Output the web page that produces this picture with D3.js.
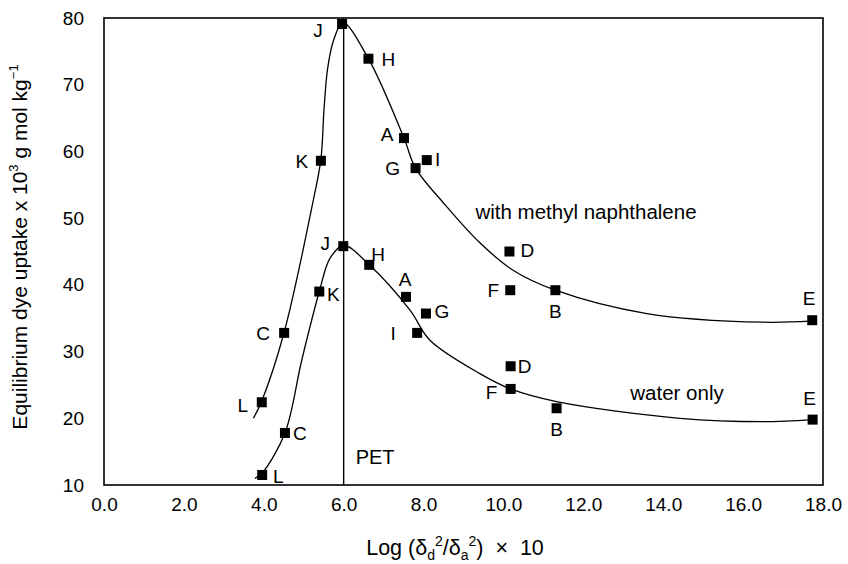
<!DOCTYPE html>
<html><head><meta charset="utf-8">
<script src="https://cdn.jsdelivr.net/npm/d3@7"></script>
<style>body{margin:0;background:#fff}text{font-family:"Liberation Sans",Arial,sans-serif;fill:#000}</style>
</head><body><svg id="c" width="848" height="564"></svg>
<script>
// ---- data ----
const letters = ["L","C","K","J","H","A","G","I","D","F","B","E"];
const withMNx = [3.95,4.51,5.43,5.96,6.62,7.51,7.80,8.08,10.15,10.17,11.30,17.73];
const withMNy = [22.4,32.8,58.6,79.1,73.9,62.0,57.5,58.7,45.0,39.2,39.2,34.7];
const waterX  = [3.96,4.53,5.39,5.99,6.64,7.56,8.06,7.84,10.18,10.18,11.33,17.74];
const waterY  = [11.5,17.8,39.0,45.8,43.0,38.2,35.7,32.8,27.8,24.4,21.5,19.8];
// fitted curves
const curveMNx = [3.74,3.95,4.51,5.24,5.43,5.51,5.60,5.75,5.98,6.62,7.51,7.80,8.54,9.41,10.24,11.30,13.59,16.5,17.73];
const curveMNy = [20.0,22.6,32.9,52.7,58.8,66.5,72.5,76.7,79.3,73.9,62.0,57.5,52.0,46.3,42.2,39.2,35.7,34.4,34.6];
const curveWx  = [3.78,3.96,4.53,4.95,5.39,5.66,6.00,6.64,7.66,8.16,9.41,10.18,11.33,14.42,16.5,17.74];
const curveWy  = [11.0,11.8,17.8,28.7,39.0,44.0,45.9,43.0,36.2,31.7,26.7,24.4,22.5,20.0,19.5,19.8];
const xTicks = [0,2,4,6,8,10,12,14,16,18];
const yTicks = [10,20,30,40,50,60,70,80];
const petX = 6.0;

// ---- layout (label offsets in px, per letter) ----
const offMN = {L:[-19,3],C:[-21,0],K:[-19,0],J:[-24,6],H:[20,0],A:[-17,-4],G:[-23,0],I:[11,-1],D:[18,-1],F:[-17,0],B:[0,21],E:[-3,-22]};
const offW  = {L:[16,1],C:[15,0],K:[14,3],J:[-18,-3],H:[9,-11],A:[-1,-18],G:[16,-2],I:[-24,0],D:[14,0],F:[-19,3],B:[0,21],E:[-3,-21]};

const svg = d3.select("#c");
const x = d3.scaleLinear().domain([0,18]).range([104,823]);
const y = d3.scaleLinear().domain([10,80]).range([485,18]);

// frame
svg.append("rect").attr("x",104).attr("y",18).attr("width",719).attr("height",467)
  .attr("fill","none").attr("stroke","#000").attr("stroke-width",1.6);

// axes (labels only)
const xa = svg.append("g").attr("transform","translate(0,485)")
  .call(d3.axisBottom(x).tickValues(xTicks).tickSize(0).tickPadding(13).tickFormat(d3.format(".1f")));
const ya = svg.append("g").attr("transform","translate(104,0)")
  .call(d3.axisLeft(y).tickValues(yTicks).tickSize(0).tickPadding(20).tickFormat(d3.format("d")));
[xa,ya].forEach(g=>{g.select(".domain").remove();g.selectAll("text").attr("font-size",19).attr("font-family","Liberation Sans, Arial, sans-serif").attr("fill","#000");});

// PET line
svg.append("line").attr("x1",x(petX)).attr("x2",x(petX)).attr("y1",y(80)).attr("y2",y(10))
  .attr("stroke","#000").attr("stroke-width",1.4);
svg.append("text").attr("x",x(petX)+12).attr("y",464).attr("font-size",20).text("PET");

// curves
const line = d3.line().x(d=>x(d[0])).y(d=>y(d[1])).curve(d3.curveCatmullRom.alpha(0.5));
svg.append("path").datum(d3.zip(curveMNx,curveMNy)).attr("d",line).attr("fill","none").attr("stroke","#000").attr("stroke-width",1.3);
svg.append("path").datum(d3.zip(curveWx,curveWy)).attr("d",line).attr("fill","none").attr("stroke","#000").attr("stroke-width",1.3);

// markers + labels
function series(xs,ys,off){
  const g = svg.append("g");
  letters.forEach((l,i)=>{
    g.append("rect").attr("x",x(xs[i])-5).attr("y",y(ys[i])-5).attr("width",10).attr("height",10).attr("fill","#000");
    g.append("text").attr("x",x(xs[i])+off[l][0]).attr("y",y(ys[i])+off[l][1]).attr("dy","0.36em")
      .attr("text-anchor","middle").attr("font-size",19).text(l);
  });
}
series(withMNx,withMNy,offMN);
series(waterX,waterY,offW);

svg.append("text").attr("x",586).attr("y",212).attr("dy","0.36em").attr("text-anchor","middle").attr("font-size",20.5).text("with methyl naphthalene");
svg.append("text").attr("x",677).attr("y",393).attr("dy","0.36em").attr("text-anchor","middle").attr("font-size",20.5).text("water only");

// y title
const yt = svg.append("text").attr("transform","translate(27,247) rotate(-90)").attr("text-anchor","middle").attr("font-size",21);
yt.append("tspan").text("Equilibrium dye uptake x 10");
yt.append("tspan").attr("font-size",13).attr("dy",-9).text("3");
yt.append("tspan").attr("dy",9).text(" g mol kg");
yt.append("tspan").attr("font-size",13).attr("dy",-9).text("−1");

// x title
const xt = svg.append("text").attr("x",455).attr("y",555).attr("text-anchor","middle").attr("font-size",21.5);
xt.append("tspan").text("Log (δ");
xt.append("tspan").attr("font-size",14).attr("dy",5).text("d");
xt.append("tspan").attr("font-size",14).attr("dy",-14).text("2");
xt.append("tspan").attr("dy",9).text("/δ");
xt.append("tspan").attr("font-size",14).attr("dy",5).text("a");
xt.append("tspan").attr("font-size",14).attr("dy",-14).text("2");
xt.append("tspan").attr("dy",9).text(")\u00a0\u00a0×\u00a0\u00a010");
</script></body></html>
